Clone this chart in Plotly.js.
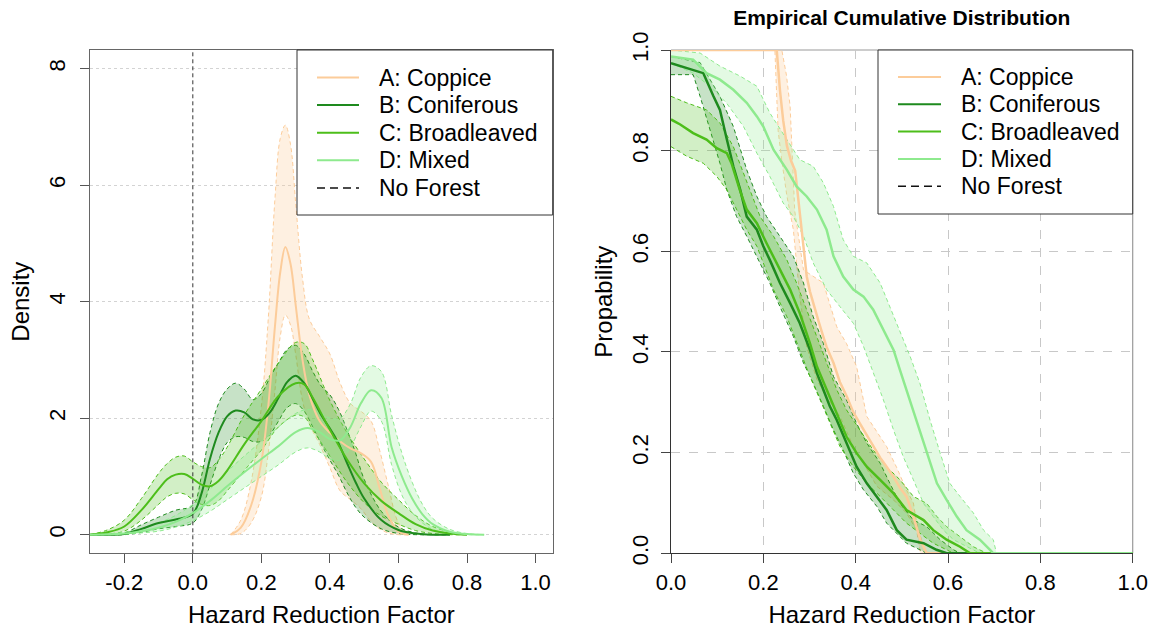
<!DOCTYPE html>
<html>
<head>
<meta charset="utf-8">
<script src="https://cdn.plot.ly/plotly-3.0.1.min.js"></script>
<style>html,body{margin:0;padding:0;background:#fff;}#chart{width:1151px;height:631px;}</style>
</head>
<body>
<div id="chart"></div>
<script>
// ---------- DATA ----------
const seriesNames = ['A: Coppice', 'B: Coniferous', 'C: Broadleaved', 'D: Mixed'];
const noForestLabel = 'No Forest';
const rightTitle = 'Empirical Cumulative Distribution';
const xTitle = 'Hazard Reduction Factor';
const leftYTitle = 'Density';
const rightYTitle = 'Propability';

const leftXTicks = [-0.2, 0.0, 0.2, 0.4, 0.6, 0.8, 1.0];
const leftYTicks = [0, 2, 4, 6, 8];
const rightXTicks = [0.0, 0.2, 0.4, 0.6, 0.8, 1.0];
const rightYTicks = [0.0, 0.2, 0.4, 0.6, 0.8, 1.0];
const noForestX = 0;

// Density (left panel): mean curve with lower / upper band
const densA_x    = [0.11, 0.14, 0.17, 0.20, 0.22, 0.24, 0.255, 0.27, 0.285, 0.30, 0.32, 0.34, 0.37, 0.40, 0.43, 0.46, 0.49, 0.52, 0.545, 0.57, 0.60, 0.63];
const densA_mean = [0.0, 0.12, 0.5, 1.25, 2.2, 3.6, 4.5, 4.94, 4.65, 3.95, 3.0, 2.4, 1.95, 1.75, 1.6, 1.48, 1.4, 1.25, 0.8, 0.33, 0.05, 0.0];
const densA_hi   = [0.0, 0.25, 0.9, 2.2, 3.7, 5.8, 6.8, 7.03, 6.7, 5.7, 4.4, 3.7, 3.4, 3.1, 2.6, 2.25, 2.12, 1.95, 1.45, 0.85, 0.2, 0.0];
const densA_lo   = [0.0, 0.02, 0.2, 0.65, 1.4, 2.5, 3.4, 3.77, 3.6, 3.1, 2.3, 1.9, 1.55, 1.15, 0.75, 0.6, 0.45, 0.22, 0.1, 0.03, 0.0, 0.0];

const densB_x    = [-0.3, -0.25, -0.2, -0.15, -0.1, -0.05, 0, 0.025, 0.05, 0.075, 0.1, 0.125, 0.15, 0.175, 0.2, 0.225, 0.25, 0.275, 0.3, 0.325, 0.35, 0.375, 0.4, 0.425, 0.45, 0.475, 0.5, 0.55, 0.6, 0.65, 0.7, 0.75];
const densB_mean = [0, 0, 0.01, 0.1, 0.2, 0.26, 0.36, 0.7, 1.3, 1.75, 2.03, 2.13, 2.1, 1.98, 1.97, 2.1, 2.35, 2.62, 2.73, 2.6, 2.33, 2.05, 1.82, 1.57, 1.23, 0.9, 0.62, 0.25, 0.08, 0.02, 0, 0];
const densB_hi   = [0, 0, 0.03, 0.17, 0.3, 0.42, 0.5, 1.0, 1.75, 2.25, 2.5, 2.6, 2.5, 2.32, 2.42, 2.7, 2.95, 3.18, 3.25, 3.1, 2.8, 2.55, 2.4, 2.15, 1.8, 1.4, 0.95, 0.4, 0.13, 0.03, 0, 0];
const densB_lo   = [0, 0, 0, 0.04, 0.1, 0.14, 0.2, 0.42, 0.85, 1.28, 1.58, 1.68, 1.67, 1.6, 1.6, 1.72, 1.95, 2.18, 2.25, 2.12, 1.85, 1.55, 1.28, 1.02, 0.72, 0.47, 0.3, 0.1, 0.02, 0, 0, 0];

const densC_x    = [-0.3, -0.25, -0.2, -0.15, -0.1, -0.075, -0.05, -0.025, 0, 0.025, 0.05, 0.075, 0.1, 0.15, 0.2, 0.25, 0.3, 0.325, 0.35, 0.4, 0.45, 0.5, 0.55, 0.6, 0.65, 0.7, 0.75, 0.8];
const densC_mean = [0, 0.04, 0.14, 0.42, 0.78, 0.95, 1.03, 1.04, 0.96, 0.86, 0.83, 0.92, 1.1, 1.55, 1.95, 2.38, 2.6, 2.58, 2.35, 1.8, 1.29, 0.88, 0.58, 0.37, 0.18, 0.07, 0.02, 0];
const densC_hi   = [0, 0.08, 0.25, 0.62, 1.05, 1.22, 1.33, 1.35, 1.25, 1.17, 1.15, 1.28, 1.5, 2.05, 2.5, 2.95, 3.3, 3.28, 3.0, 2.3, 1.75, 1.3, 0.9, 0.6, 0.33, 0.14, 0.05, 0];
const densC_lo   = [0, 0.01, 0.06, 0.25, 0.52, 0.65, 0.71, 0.7, 0.6, 0.52, 0.5, 0.58, 0.75, 1.1, 1.45, 1.85, 2.05, 2.02, 1.8, 1.35, 0.9, 0.55, 0.32, 0.18, 0.07, 0.02, 0, 0];

const densD_x    = [-0.3, -0.2, -0.15, -0.1, -0.05, 0, 0.05, 0.1, 0.15, 0.2, 0.25, 0.3, 0.335, 0.37, 0.4, 0.43, 0.46, 0.49, 0.52, 0.55, 0.58, 0.61, 0.64, 0.67, 0.7, 0.75, 0.8, 0.85];
const densD_mean = [0, 0.02, 0.06, 0.12, 0.22, 0.37, 0.58, 0.83, 1.07, 1.3, 1.52, 1.76, 1.83, 1.76, 1.64, 1.62, 1.85, 2.25, 2.48, 2.35, 1.5, 1.0, 0.62, 0.35, 0.18, 0.05, 0.01, 0];
const densD_hi   = [0, 0.04, 0.1, 0.2, 0.33, 0.52, 0.78, 1.08, 1.35, 1.6, 1.85, 2.08, 2.15, 2.1, 2.0, 2.0, 2.25, 2.7, 2.9, 2.8, 2.05, 1.4, 0.9, 0.52, 0.28, 0.09, 0.02, 0];
const densD_lo   = [0, 0.01, 0.03, 0.06, 0.13, 0.24, 0.4, 0.6, 0.8, 1.0, 1.2, 1.42, 1.49, 1.42, 1.3, 1.28, 1.5, 1.85, 2.12, 1.95, 1.2, 0.68, 0.38, 0.2, 0.09, 0.02, 0, 0];

// Empirical cumulative (right panel): exceedance probability curves
const ecdfA_x    = [0, 0.229, 0.236, 0.243, 0.251, 0.26, 0.269, 0.275, 0.28, 0.287, 0.294, 0.301, 0.31, 0.32, 0.33, 0.337, 0.352, 0.366, 0.381, 0.395, 0.409, 0.424, 0.438, 0.453, 0.467, 0.482, 0.496, 0.51, 0.525, 0.54, 0.554, 1.0];
const ecdfA_p    = [1, 1, 0.92, 0.86, 0.81, 0.78, 0.76, 0.71, 0.67, 0.6, 0.55, 0.52, 0.49, 0.46, 0.43, 0.41, 0.378, 0.34, 0.311, 0.28, 0.258, 0.235, 0.212, 0.19, 0.172, 0.152, 0.13, 0.113, 0.073, 0.027, 0, 0];
const ecdfA_hi_x = [0, 0.24, 0.25, 0.258, 0.268, 0.287, 0.33, 0.359, 0.38, 0.402, 0.424, 0.467, 0.489, 0.51, 0.525, 0.532, 0.547, 0.555, 1];
const ecdfA_hi_p = [1, 1, 0.95, 0.888, 0.68, 0.563, 0.537, 0.45, 0.417, 0.371, 0.272, 0.212, 0.17, 0.126, 0.10, 0.06, 0.013, 0, 0];
const ecdfA_lo_x = [0, 0.225, 0.232, 0.24, 0.251, 0.265, 0.279, 0.294, 0.316, 0.337, 0.366, 0.395, 0.417, 0.446, 0.482, 0.51, 0.532, 0.54, 1];
const ecdfA_lo_p = [1, 1, 0.84, 0.78, 0.71, 0.643, 0.51, 0.41, 0.345, 0.31, 0.272, 0.212, 0.179, 0.133, 0.106, 0.08, 0.046, 0, 0];

const ecdfB_x    = [0, 0.048, 0.07, 0.092, 0.106, 0.121, 0.135, 0.15, 0.164, 0.186, 0.2, 0.214, 0.236, 0.258, 0.279, 0.301, 0.316, 0.33, 0.344, 0.359, 0.38, 0.402, 0.424, 0.446, 0.467, 0.489, 0.51, 0.547, 0.575, 0.597, 1];
const ecdfB_p    = [0.974, 0.96, 0.954, 0.908, 0.881, 0.822, 0.769, 0.722, 0.669, 0.643, 0.61, 0.583, 0.537, 0.497, 0.457, 0.404, 0.358, 0.325, 0.292, 0.265, 0.219, 0.172, 0.139, 0.113, 0.086, 0.046, 0.027, 0.02, 0.007, 0, 0];
const ecdfB_hi_x = [0, 0.063, 0.106, 0.135, 0.164, 0.186, 0.207, 0.236, 0.265, 0.287, 0.308, 0.33, 0.352, 0.38, 0.402, 0.424, 0.453, 0.474, 0.496, 0.525, 0.554, 0.583, 0.612, 0.626, 1];
const ecdfB_hi_p = [0.987, 0.975, 0.908, 0.848, 0.762, 0.709, 0.669, 0.63, 0.59, 0.537, 0.47, 0.417, 0.351, 0.305, 0.258, 0.219, 0.179, 0.139, 0.099, 0.066, 0.053, 0.027, 0.007, 0, 0];
const ecdfB_lo_x = [0, 0.048, 0.063, 0.084, 0.106, 0.121, 0.142, 0.164, 0.193, 0.214, 0.236, 0.265, 0.287, 0.308, 0.33, 0.352, 0.373, 0.395, 0.417, 0.446, 0.467, 0.489, 0.51, 0.539, 0.554, 1];
const ecdfB_lo_p = [0.951, 0.951, 0.908, 0.842, 0.775, 0.722, 0.669, 0.63, 0.577, 0.537, 0.49, 0.431, 0.378, 0.338, 0.292, 0.245, 0.205, 0.159, 0.126, 0.093, 0.06, 0.04, 0.02, 0.007, 0, 0];

const ecdfC_x    = [0, 0.02, 0.048, 0.077, 0.099, 0.121, 0.131, 0.149, 0.164, 0.186, 0.207, 0.229, 0.258, 0.279, 0.301, 0.316, 0.337, 0.359, 0.38, 0.402, 0.424, 0.453, 0.482, 0.51, 0.547, 0.568, 0.597, 0.626, 0.648, 1];
const ecdfC_p    = [0.862, 0.852, 0.835, 0.822, 0.805, 0.795, 0.775, 0.722, 0.683, 0.656, 0.616, 0.577, 0.524, 0.477, 0.417, 0.371, 0.325, 0.278, 0.232, 0.199, 0.172, 0.146, 0.119, 0.086, 0.066, 0.046, 0.027, 0.013, 0, 0];
const ecdfC_hi_x = [0, 0.034, 0.077, 0.106, 0.135, 0.157, 0.171, 0.193, 0.222, 0.251, 0.272, 0.294, 0.316, 0.337, 0.359, 0.38, 0.409, 0.438, 0.467, 0.496, 0.525, 0.554, 0.576, 0.597, 0.626, 0.655, 0.684, 1];
const ecdfC_hi_p = [0.908, 0.895, 0.881, 0.855, 0.808, 0.755, 0.722, 0.669, 0.63, 0.583, 0.537, 0.484, 0.431, 0.378, 0.325, 0.285, 0.245, 0.205, 0.172, 0.146, 0.113, 0.099, 0.073, 0.053, 0.033, 0.013, 0, 0];
const ecdfC_lo_x = [0, 0.034, 0.07, 0.099, 0.121, 0.142, 0.164, 0.186, 0.2, 0.222, 0.251, 0.279, 0.301, 0.323, 0.344, 0.366, 0.395, 0.424, 0.453, 0.482, 0.51, 0.539, 0.568, 0.597, 0.612, 1];
const ecdfC_lo_p = [0.808, 0.789, 0.775, 0.749, 0.722, 0.683, 0.643, 0.61, 0.577, 0.524, 0.47, 0.404, 0.351, 0.305, 0.258, 0.212, 0.172, 0.139, 0.113, 0.086, 0.06, 0.04, 0.02, 0.007, 0, 0];

const ecdfD_x    = [0, 0.048, 0.077, 0.106, 0.135, 0.164, 0.186, 0.2, 0.222, 0.251, 0.272, 0.294, 0.316, 0.337, 0.352, 0.373, 0.395, 0.417, 0.438, 0.46, 0.482, 0.496, 0.51, 0.532, 0.554, 0.576, 0.597, 0.619, 0.64, 0.669, 0.691, 0.698, 1];
const ecdfD_p    = [0.987, 0.981, 0.954, 0.941, 0.921, 0.895, 0.868, 0.848, 0.802, 0.762, 0.729, 0.709, 0.683, 0.643, 0.59, 0.55, 0.524, 0.51, 0.484, 0.444, 0.404, 0.364, 0.325, 0.265, 0.199, 0.139, 0.106, 0.073, 0.046, 0.027, 0.007, 0, 0];
const ecdfD_hi_x = [0, 0.063, 0.106, 0.15, 0.186, 0.214, 0.251, 0.279, 0.308, 0.33, 0.352, 0.373, 0.395, 0.424, 0.453, 0.474, 0.496, 0.518, 0.539, 0.561, 0.583, 0.604, 0.626, 0.655, 0.677, 0.698, 0.705, 1];
const ecdfD_hi_p = [1, 0.994, 0.968, 0.948, 0.928, 0.875, 0.822, 0.782, 0.769, 0.736, 0.689, 0.623, 0.59, 0.577, 0.537, 0.49, 0.444, 0.391, 0.338, 0.265, 0.199, 0.139, 0.113, 0.08, 0.046, 0.027, 0, 0];
const ecdfD_lo_x = [0, 0.048, 0.084, 0.12, 0.157, 0.186, 0.214, 0.243, 0.265, 0.287, 0.308, 0.337, 0.366, 0.395, 0.417, 0.438, 0.46, 0.482, 0.503, 0.525, 0.547, 0.568, 0.59, 0.612, 0.64, 0.669, 1];
const ecdfD_lo_p = [0.974, 0.954, 0.928, 0.895, 0.848, 0.795, 0.749, 0.696, 0.669, 0.63, 0.577, 0.524, 0.49, 0.457, 0.411, 0.358, 0.305, 0.245, 0.192, 0.146, 0.099, 0.073, 0.046, 0.027, 0.013, 0, 0];

// ---------- STYLE ----------
const W = 1151, H = 631;
const FONT = '"Liberation Sans", Arial, sans-serif';
const lineRGB = [[252, 204, 154], [30, 138, 30], [77, 190, 26], [142, 234, 142]];
const fillAlpha = [0.3, 0.25, 0.25, 0.25];
const rgb = c => `rgb(${c[0]},${c[1]},${c[2]})`;
const rgba = (c, a) => `rgba(${c[0]},${c[1]},${c[2]},${a})`;
const DASH = '4px,3px';
const px = x => x / W;
const py = y => 1 - y / H;

const dens = [
  {x: densA_x, m: densA_mean, hi: densA_hi, lo: densA_lo},
  {x: densB_x, m: densB_mean, hi: densB_hi, lo: densB_lo},
  {x: densC_x, m: densC_mean, hi: densC_hi, lo: densC_lo},
  {x: densD_x, m: densD_mean, hi: densD_hi, lo: densD_lo}
];
const ecdf = [
  {x: ecdfA_x, p: ecdfA_p, hx: ecdfA_hi_x, hp: ecdfA_hi_p, lx: ecdfA_lo_x, lp: ecdfA_lo_p},
  {x: ecdfB_x, p: ecdfB_p, hx: ecdfB_hi_x, hp: ecdfB_hi_p, lx: ecdfB_lo_x, lp: ecdfB_lo_p},
  {x: ecdfC_x, p: ecdfC_p, hx: ecdfC_hi_x, hp: ecdfC_hi_p, lx: ecdfC_lo_x, lp: ecdfC_lo_p},
  {x: ecdfD_x, p: ecdfD_p, hx: ecdfD_hi_x, hp: ecdfD_hi_p, lx: ecdfD_lo_x, lp: ecdfD_lo_p}
];

const traces = [];
const base = {type: 'scatter', mode: 'lines', hoverinfo: 'skip', showlegend: false};
// left bands
dens.forEach((s, i) => {
  traces.push(Object.assign({}, base, {x: s.x, y: s.lo, xaxis: 'x', yaxis: 'y',
    line: {color: rgb(lineRGB[i]), width: 1, dash: DASH, shape: 'spline', smoothing: 1}}));
  traces.push(Object.assign({}, base, {x: s.x, y: s.hi, xaxis: 'x', yaxis: 'y', fill: 'tonexty',
    fillcolor: rgba(lineRGB[i], fillAlpha[i]),
    line: {color: rgb(lineRGB[i]), width: 1, dash: DASH, shape: 'spline', smoothing: 1}}));
});
dens.forEach((s, i) => {
  traces.push(Object.assign({}, base, {x: s.x, y: s.m, xaxis: 'x', yaxis: 'y',
    line: {color: rgb(lineRGB[i]), width: 2, shape: 'spline', smoothing: 1}}));
});
// right bands
ecdf.forEach((s, i) => {
  traces.push(Object.assign({}, base, {x: s.lx, y: s.lp, xaxis: 'x2', yaxis: 'y2',
    line: {color: rgb(lineRGB[i]), width: 1, dash: DASH, shape: 'linear'}}));
  traces.push(Object.assign({}, base, {x: s.hx, y: s.hp, xaxis: 'x2', yaxis: 'y2', fill: 'tonexty',
    fillcolor: rgba(lineRGB[i], fillAlpha[i]),
    line: {color: rgb(lineRGB[i]), width: 1, dash: DASH, shape: 'linear'}}));
});
ecdf.forEach((s, i) => {
  traces.push(Object.assign({}, base, {x: s.x, y: s.p, xaxis: 'x2', yaxis: 'y2',
    line: {color: rgb(lineRGB[i]), width: 2.5, shape: 'linear'}}));
});

const fmt1 = v => v.toFixed(1);
const tickFont = {family: FONT, size: 22, color: '#000'};
const titleFont = {family: FONT, size: 24, color: '#000'};
const yDomain = [py(553.3), py(50)];

const shapes = [];
const annotations = [];
// No forest vertical line (left panel)
shapes.push({type: 'line', xref: 'x', yref: 'y domain', x0: noForestX, x1: noForestX, y0: 0, y1: 1,
  line: {color: '#333', width: 1, dash: DASH}, layer: 'above'});
// right panel top / right edges (grey)
shapes.push({type: 'line', xref: 'x2 domain', yref: 'y2 domain', x0: 1, x1: 1, y0: 0, y1: 1,
  line: {color: '#999', width: 1.2}, layer: 'below'});
shapes.push({type: 'line', xref: 'x2 domain', yref: 'y2 domain', x0: 0, x1: 1, y0: 1, y1: 1,
  line: {color: '#999', width: 1.2}, layer: 'below'});

function legend(x0, x1, y0, y1, sx0, sx1, tx, ey, dy) {
  shapes.push({type: 'rect', xref: 'paper', yref: 'paper', x0: px(x0), x1: px(x1), y0: py(y1), y1: py(y0),
    fillcolor: '#fff', line: {color: '#333', width: 1}, layer: 'above'});
  const labels = seriesNames.concat([noForestLabel]);
  labels.forEach((lab, i) => {
    const yy = ey + dy * i;
    const isNF = i === seriesNames.length;
    shapes.push({type: 'line', xref: 'paper', yref: 'paper', x0: px(sx0), x1: px(sx1), y0: py(yy), y1: py(yy),
      line: {color: isNF ? '#111' : rgb(lineRGB[i]), width: isNF ? 1.5 : 2, dash: isNF ? '8px,5px' : 'solid'}, layer: 'above'});
    annotations.push({xref: 'paper', yref: 'paper', x: px(tx), y: py(yy), xanchor: 'left', yanchor: 'middle',
      text: lab, showarrow: false, font: {family: FONT, size: 23, color: '#000'}});
  });
}
legend(297, 552.7, 50, 215, 317, 359, 377, 77.5, 27.6);
legend(878, 1132.7, 50, 214, 898, 941, 959, 77, 27.3);

const layout = {
  width: W, height: H,
  margin: {l: 0, r: 0, t: 0, b: 0},
  paper_bgcolor: '#fff', plot_bgcolor: '#fff',
  font: {family: FONT, color: '#000'},
  showlegend: false,
  title: {text: '<b>' + rightTitle + '</b>', x: px(901.8), xanchor: 'center', xref: 'paper',
    y: py(18), yanchor: 'middle', yref: 'paper', font: {family: FONT, size: 21, color: '#000'}},
  xaxis: {domain: [px(90), px(552.7)], range: [-0.3, 1.05], tickvals: leftXTicks, ticktext: leftXTicks.map(fmt1),
    ticks: 'outside', ticklen: 9, tickcolor: '#555', tickfont: tickFont, showgrid: false, zeroline: false,
    showline: true, mirror: true, linecolor: '#666', linewidth: 1, anchor: 'y',
    title: {text: xTitle, font: titleFont, standoff: 12}},
  yaxis: {domain: yDomain, range: [-0.32, 8.32], tickvals: leftYTicks, ticktext: leftYTicks.map(String),
    ticks: 'outside', ticklen: 9, tickcolor: '#555', tickfont: tickFont, tickangle: -90, ticklabelstandoff: 6,
    showgrid: true, gridcolor: '#d3d3d3', griddash: 'dot', gridwidth: 1, zeroline: false,
    showline: true, mirror: true, linecolor: '#666', linewidth: 1, anchor: 'x',
    title: {text: leftYTitle, font: titleFont, standoff: 8}},
  xaxis2: {domain: [px(671), px(1132.7)], range: [0, 1], tickvals: rightXTicks, ticktext: rightXTicks.map(fmt1),
    ticks: 'outside', ticklen: 9, tickcolor: '#444', tickfont: tickFont,
    showgrid: true, gridcolor: '#c8c8c8', griddash: 'dash', gridwidth: 1, zeroline: false,
    showline: true, linecolor: '#333', linewidth: 1, anchor: 'y2',
    title: {text: xTitle, font: titleFont, standoff: 12}},
  yaxis2: {domain: yDomain, range: [0, 1], tickvals: rightYTicks, ticktext: rightYTicks.map(fmt1),
    ticks: 'outside', ticklen: 9, tickcolor: '#444', tickfont: tickFont, tickangle: -90, ticklabelstandoff: 4,
    showgrid: true, gridcolor: '#c8c8c8', griddash: 'dash', gridwidth: 1, zeroline: false,
    showline: true, linecolor: '#333', linewidth: 1, anchor: 'x2',
    title: {text: rightYTitle, font: titleFont, standoff: 8}},
  shapes: shapes,
  annotations: annotations
};

Plotly.newPlot('chart', traces, layout, {staticPlot: true, displayModeBar: false});
</script>
</body>
</html>
